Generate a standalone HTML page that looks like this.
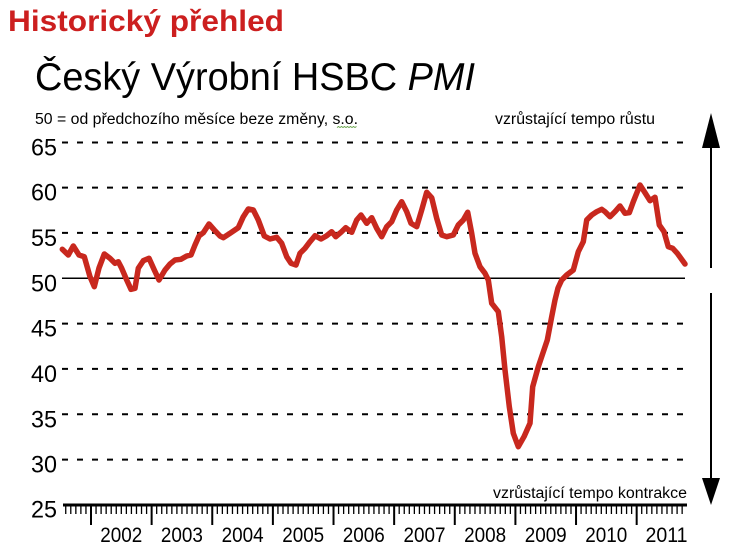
<!DOCTYPE html>
<html>
<head>
<meta charset="utf-8">
<style>
html,body{margin:0;padding:0;background:#fff;}
svg{display:block;}
text{font-family:"Liberation Sans", Arial, sans-serif;}
</style>
</head>
<body>
<svg width="733" height="550" viewBox="0 0 733 550" xmlns="http://www.w3.org/2000/svg">
<rect width="733" height="550" fill="#fff"/>
<!-- Titles -->
<text x="8" y="31" font-size="30" font-weight="bold" fill="#cc1f1f" textLength="276" lengthAdjust="spacingAndGlyphs">Historický přehled</text>
<text x="35" y="90" font-size="39" fill="#000" textLength="440" lengthAdjust="spacingAndGlyphs">Český Výrobní HSBC <tspan font-style="italic">PMI</tspan></text>
<text x="35" y="124" font-size="15.5" fill="#000" textLength="323" lengthAdjust="spacingAndGlyphs">50 = od předchozího měsíce beze změny, s.o.</text>
<path d="M337 127.5 l1.5 -1 l1.5 1 l1.5 -1 l1.5 1 l1.5 -1 l1.5 1 l1.5 -1 l1.5 1 l1.5 -1 l1.5 1 l1.5 -1 l1.5 1 l1.5 -1" fill="none" stroke="#5a9a3a" stroke-width="0.8"/>
<text x="495" y="124" font-size="15.5" fill="#000" textLength="160" lengthAdjust="spacingAndGlyphs">vzrůstající tempo růstu</text>
<text x="493" y="498" font-size="15.5" fill="#000" textLength="194" lengthAdjust="spacingAndGlyphs">vzrůstající tempo kontrakce</text>

<!-- Gridlines -->
<g stroke="#000" stroke-width="2" stroke-dasharray="6 9">
<line x1="62" y1="142.5" x2="685" y2="142.5"/>
<line x1="62" y1="187.6" x2="685" y2="187.6"/>
<line x1="62" y1="232.9" x2="685" y2="232.9"/>
<line x1="62" y1="323.6" x2="685" y2="323.6"/>
<line x1="62" y1="368.9" x2="685" y2="368.9"/>
<line x1="62" y1="414.3" x2="685" y2="414.3"/>
<line x1="62" y1="459.6" x2="685" y2="459.6"/>
</g>
<line x1="62" y1="278.3" x2="685" y2="278.3" stroke="#000" stroke-width="1.5"/>

<!-- Y labels -->
<g font-size="24" fill="#000" text-anchor="end">
<text x="57" y="155.5" textLength="26" lengthAdjust="spacingAndGlyphs">65</text>
<text x="57" y="200.5" textLength="26" lengthAdjust="spacingAndGlyphs">60</text>
<text x="57" y="246" textLength="26" lengthAdjust="spacingAndGlyphs">55</text>
<text x="57" y="291.5" textLength="26" lengthAdjust="spacingAndGlyphs">50</text>
<text x="57" y="336.5" textLength="26" lengthAdjust="spacingAndGlyphs">45</text>
<text x="57" y="382" textLength="26" lengthAdjust="spacingAndGlyphs">40</text>
<text x="57" y="427.5" textLength="26" lengthAdjust="spacingAndGlyphs">35</text>
<text x="57" y="472.5" textLength="26" lengthAdjust="spacingAndGlyphs">30</text>
<text x="57" y="517.5" textLength="26" lengthAdjust="spacingAndGlyphs">25</text>
</g>

<!-- X axis -->
<line x1="63" y1="505" x2="687" y2="505" stroke="#000" stroke-width="3"/>
<g id="ticks" stroke="#000" stroke-width="1.3"></g>

<g font-size="21" fill="#000" text-anchor="middle">
<text x="121.3" y="542" textLength="42" lengthAdjust="spacingAndGlyphs">2002</text>
<text x="181.9" y="542" textLength="42" lengthAdjust="spacingAndGlyphs">2003</text>
<text x="242.6" y="542" textLength="42" lengthAdjust="spacingAndGlyphs">2004</text>
<text x="303.2" y="542" textLength="42" lengthAdjust="spacingAndGlyphs">2005</text>
<text x="363.8" y="542" textLength="42" lengthAdjust="spacingAndGlyphs">2006</text>
<text x="424.5" y="542" textLength="42" lengthAdjust="spacingAndGlyphs">2007</text>
<text x="485.1" y="542" textLength="42" lengthAdjust="spacingAndGlyphs">2008</text>
<text x="545.7" y="542" textLength="42" lengthAdjust="spacingAndGlyphs">2009</text>
<text x="606.3" y="542" textLength="42" lengthAdjust="spacingAndGlyphs">2010</text>
<text x="666.5" y="542" textLength="42" lengthAdjust="spacingAndGlyphs">2011</text>
</g>

<!-- Data line -->
<polyline fill="none" stroke="#c8281e" stroke-width="5.5" stroke-linejoin="round" stroke-linecap="round" points="
62.3,249.3 68.3,255 73.3,246 79,255 84.3,256.7 90,276.7 94.3,286.7 99,268 104.3,254 110,258.3 115,263.3 118.3,261.7 121.7,268.3 126.7,280 131,289.3 135,288.3 138.3,268.3 143.3,260.7 149,258.3 154.3,270 159,280 165,270 170,264 175,260 181,259.3 186.7,256 191,255 195,245 199,236 203.3,232.7 209,224 214.3,230 220,236
223.3,237.7 230,233.3 238.3,227.7 243.3,216.7 248.3,209 253.3,210 258.3,220 264.3,236 270,239 276.7,237.3 281.7,243.3 286.7,256.7 291,263.3 296,265 300,253.3 305,248.3 310,241.7 315,235.7 321,239 326.7,235.7 331.7,231.7 335.7,236.7 341,232.3 345.7,227.7 351.7,232.3 356.7,220 361,215 366.7,223.3 371.7,217.7 376.7,228.3
381.7,236.7 386.7,226.7 391.7,221.7 396.7,210 401.7,201.7 406.7,211.7 411,223.3 416.7,226.7 421.7,210 426.7,192.3 431.7,197.7 436.7,218.3 441.7,235 446.7,236.7 453.3,235 458.3,225 463.3,220 467.7,212.3 471.7,233.3 475,253.3 480,266.7 485,273.3
488.3,280 491.7,303.3 498.3,311.7 501.7,336.7 505,370 509.3,406.7 513.3,433.3 518.3,446.7 524,436.7 530,423.3 532.7,386.7 538.3,366.7 547.3,340 551.7,316.7 555,300 558,288
561.7,280 566.7,275 573.3,270 578.3,251.7 583.3,241.7 586.7,220 591.7,215 596.7,211.7 601.7,209.3 605,211.7 610,216.7 615,211.7 620,206 625,213.3 629.3,212.7 633.3,201.7 640,185 645,192.7 650,200.7 655,197.3 659.3,225 664,231.7 668.3,246.7 672.7,248.3 677.3,253.3 685,264"/>

<!-- Arrows -->
<line x1="711" y1="146" x2="711" y2="268" stroke="#000" stroke-width="2"/>
<polygon points="711,113 702,148 720,148" fill="#000"/>
<line x1="711" y1="293" x2="711" y2="480" stroke="#000" stroke-width="2"/>
<polygon points="702,478 720,478 711,505" fill="#000"/>

<script>
(function(){
  var g=document.getElementById('ticks');
  var ns='http://www.w3.org/2000/svg';
  var yr=60.63, m=yr/12, x0=91;
  for(var i=-6;i<=126;i++){
    var x=x0+i*m;
    if(x<64||x>687) continue;
    var major=(i%12===0);
    var l=document.createElementNS(ns,'line');
    l.setAttribute('x1',x.toFixed(2));l.setAttribute('x2',x.toFixed(2));
    l.setAttribute('y1','505');l.setAttribute('y2',major?'525':'514');
    if(major) l.setAttribute('stroke-width','2');
    g.appendChild(l);
  }
})();
</script>
</svg>
</body>
</html>
